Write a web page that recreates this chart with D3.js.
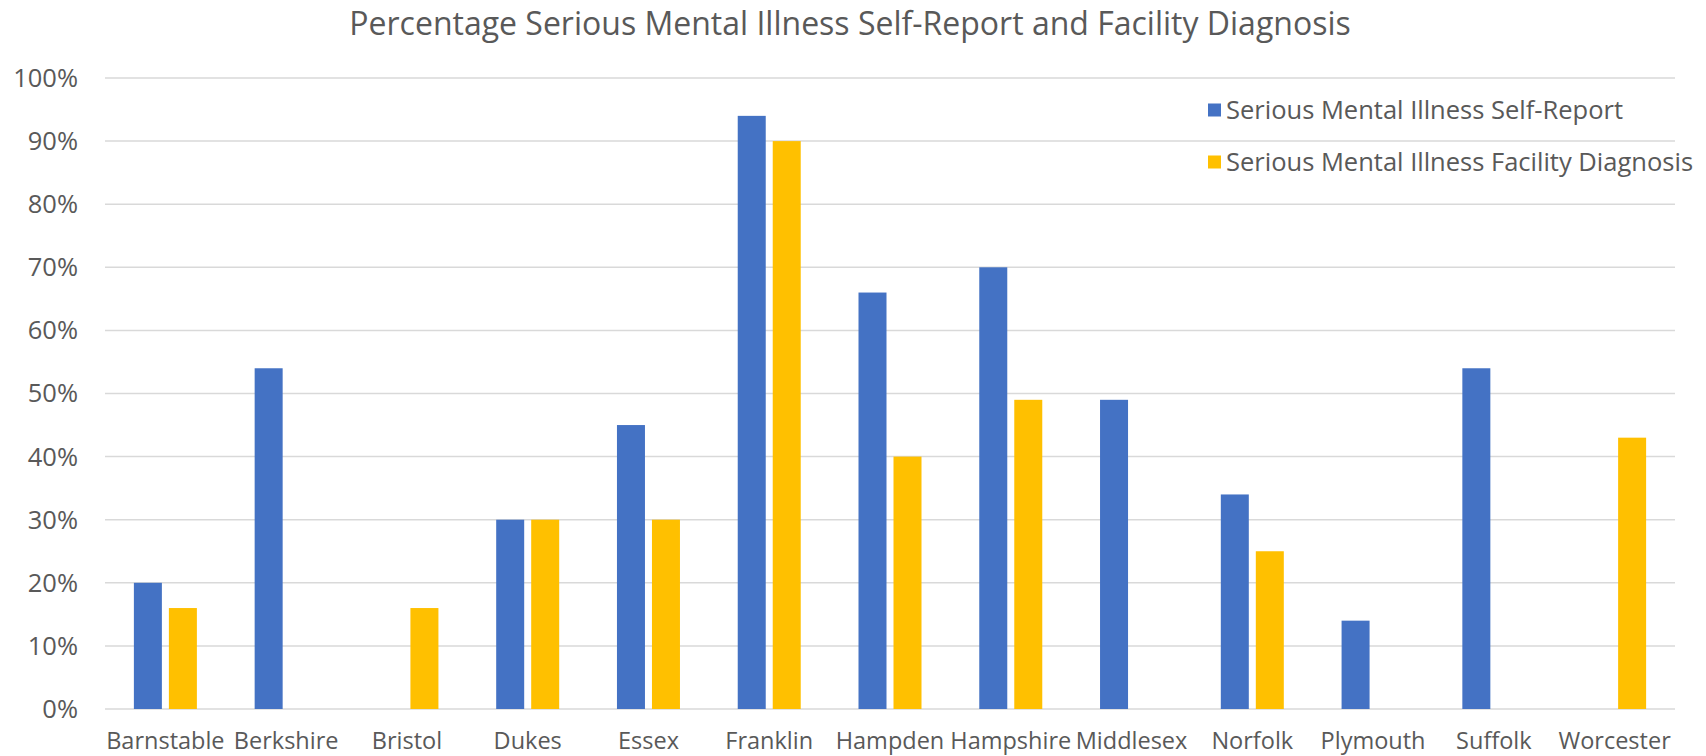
<!DOCTYPE html>
<html>
<head>
<meta charset="utf-8">
<script src="https://cdn.jsdelivr.net/npm/d3@7"></script>
<style>
body { margin: 0; background: #fff; }
text { font-family: 'Open Sans', sans-serif; fill: #595959; }
</style>
</head>
<body>
<div id="chart"></div>
<script>
var counties = ['Barnstable','Berkshire','Bristol','Dukes','Essex','Franklin','Hampden','Hampshire','Middlesex','Norfolk','Plymouth','Suffolk','Worcester'];
var selfReport = [20,54,0,30,45,94,66,70,49,34,14,54,0];
var facilityDiag = [16,0,16,30,30,90,40,49,0,25,0,0,43];
var seriesNames = ['Serious Mental Illness Self-Report','Serious Mental Illness Facility Diagnosis'];
var seriesColors = ['#4472C4','#FFC000'];
var yTicks = [0,10,20,30,40,50,60,70,80,90,100];

var width = 1706, height = 756;
var margin = {left:105, right:31, top:78, bottom:47};

var svg = d3.select('#chart').append('svg')
    .attr('width', width)
    .attr('height', height);

var x0 = d3.scaleBand()
    .domain(counties)
    .range([margin.left, width - margin.right])
    .paddingInner(0).paddingOuter(0);

var x1 = d3.scaleBand()
    .domain([0,1])
    .range([x0.bandwidth()/2 - 31.5, x0.bandwidth()/2 + 31.5])
    .paddingInner(0.2).paddingOuter(0);

var y = d3.scaleLinear()
    .domain([0,100])
    .range([height - margin.bottom, margin.top]);

// gridlines
svg.append('g')
    .selectAll('line')
    .data(yTicks)
    .enter()
    .append('line')
    .attr('x1', margin.left)
    .attr('x2', width - margin.right)
    .attr('y1', function(d){ return y(d); })
    .attr('y2', function(d){ return y(d); })
    .attr('stroke', '#D9D9D9')
    .attr('stroke-width', 1.5);

// y labels
svg.append('g')
    .selectAll('text')
    .data(yTicks)
    .enter()
    .append('text')
    .attr('x', 78)
    .attr('y', function(d){ return y(d); })
    .attr('dy', '0.35em')
    .attr('text-anchor', 'end')
    .attr('font-size', 25.5)
    .text(function(d){ return d + '%'; });

// bars
var rows = counties.map(function(c, i){ return {county:c, vals:[selfReport[i], facilityDiag[i]]}; });

var groups = svg.append('g')
    .selectAll('g')
    .data(rows)
    .enter()
    .append('g')
    .attr('transform', function(d){ return 'translate(' + x0(d.county) + ',0)'; });

groups.selectAll('rect')
    .data(function(d){ return d.vals.map(function(v, k){ return {k:k, v:v}; }); })
    .enter()
    .append('rect')
    .attr('x', function(d){ return x1(d.k); })
    .attr('width', x1.bandwidth())
    .attr('y', function(d){ return y(d.v); })
    .attr('height', function(d){ return y(0) - y(d.v); })
    .style('fill', function(d){ return seriesColors[d.k]; });

// x labels
svg.append('g')
    .selectAll('text')
    .data(counties)
    .enter()
    .append('text')
    .attr('x', function(d){ return x0(d) + x0.bandwidth()/2; })
    .attr('y', 749)
    .attr('text-anchor', 'middle')
    .attr('font-size', 23.5)
    .text(function(d){ return d; });

// title
svg.append('text')
    .attr('x', 850)
    .attr('y', 35)
    .attr('text-anchor', 'middle')
    .attr('font-size', 32)
    .text('Percentage Serious Mental Illness Self-Report and Facility Diagnosis');

// legend
var legend = svg.append('g')
    .selectAll('g')
    .data(seriesNames)
    .enter()
    .append('g')
    .attr('transform', function(d, i){ return 'translate(1208,' + (110 + i*52) + ')'; });

legend.append('rect')
    .attr('x', 0)
    .attr('y', -6.5)
    .attr('width', 13)
    .attr('height', 13)
    .style('fill', function(d, i){ return seriesColors[i]; });

legend.append('text')
    .attr('x', 18)
    .attr('y', 0)
    .attr('dy', '0.35em')
    .attr('font-size', 25.5)
    .text(function(d){ return d; });
</script>
</body>
</html>
